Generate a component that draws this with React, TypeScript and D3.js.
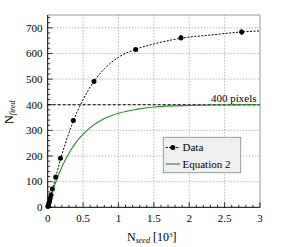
import React from "react";
import * as d3 from "d3";

const dataX = [0.003, 0.007, 0.012, 0.018, 0.025, 0.035, 0.047, 0.066, 0.113, 0.18, 0.362, 0.654, 1.243, 1.884, 2.741];
const dataY = [3, 7, 12, 18, 25, 35, 48, 71, 118, 191, 339, 491, 615, 661, 684];
const dataErr = [1, 1, 1, 1, 2, 2, 2, 3, 4, 5, 6, 7, 9, 11, 12];

const fitX = [0, 0.05, 0.1, 0.2, 0.3, 0.4, 0.5, 0.65, 0.8, 1.0, 1.25, 1.5, 1.9, 2.3, 2.75, 3];
const fitY = [0, 52, 105, 205, 290, 362, 420, 490, 540, 585, 617, 637, 660, 672, 684, 688];

const eqX = [0, 0.05, 0.1, 0.2, 0.3, 0.4, 0.5, 0.6, 0.8, 1.0, 1.25, 1.5, 2.0, 2.5, 3.0];
const eqY = [0, 47, 88, 157, 211, 253, 285, 311, 346, 367, 382, 391, 397, 399, 400];

const xTicks = [0, 0.5, 1, 1.5, 2, 2.5, 3];
const xTickLabels = ["0", "0.5", "1", "1.5", "2", "2.5", "3"];
const yTicks = [0, 100, 200, 300, 400, 500, 600, 700];

const W = 283, H = 247;
const L = 47.7, R = 260, T = 15, B = 207.3;
const FONT = "Liberation Serif, Times New Roman, DejaVu Serif, serif";

export default function App() {
  const x = d3.scaleLinear().domain([0, 3]).range([L, R]);
  const y = d3.scaleLinear().domain([0, 750]).range([B, T]);

  const fitLine = d3.line<number>().x((_, i) => x(fitX[i])).y((d) => y(d)).curve(d3.curveMonotoneX);
  const eqLine = d3.line<number>().x((_, i) => x(eqX[i])).y((d) => y(d)).curve(d3.curveMonotoneX);

  const xMinor = d3.range(0, 3.0001, 0.1);
  const yMinor = d3.range(0, 750.001, 20);

  return (
    <svg width={W} height={H} style={{ position: "absolute", left: 0, top: 0, background: "#fff", fontFamily: FONT }}>
      <rect x={0} y={0} width={W} height={H} fill="#fff" />
      {/* grid */}
      {xTicks.slice(1, -1).map((t) => (
        <line key={"gx" + t} x1={x(t)} x2={x(t)} y1={T} y2={B} stroke="#aaa" strokeWidth={0.8} strokeDasharray="1.5,1.5" />
      ))}
      {yTicks.slice(1).map((t) => (
        <line key={"gy" + t} x1={L} x2={R} y1={y(t)} y2={y(t)} stroke="#aaa" strokeWidth={0.8} strokeDasharray="1.5,1.5" />
      ))}
      {/* frame */}
      <line x1={L} x2={R} y1={T} y2={T} stroke="#999" strokeWidth={1} />
      <line x1={R} x2={R} y1={T} y2={B} stroke="#999" strokeWidth={1} />
      {/* 400 line */}
      <line x1={L} x2={R} y1={y(400)} y2={y(400)} stroke="#000" strokeWidth={1} strokeDasharray="3,2" />
      <text x={256.5} y={y(400) - 2.5} fontSize={11} textAnchor="end" fill="#000">400 pixels</text>
      {/* equation curve */}
      <path d={eqLine(eqY) || ""} fill="none" stroke="#228b22" strokeWidth={1.1} />
      {/* fit curve */}
      <path d={fitLine(fitY) || ""} fill="none" stroke="#000" strokeWidth={1} strokeDasharray="2,1.5" />
      {/* data */}
      {dataX.map((dx, i) => (
        <g key={"d" + i}>
          <line x1={x(dx)} x2={x(dx)} y1={y(dataY[i] - dataErr[i])} y2={y(dataY[i] + dataErr[i])} stroke="#000" strokeWidth={1} />
          <circle cx={x(dx)} cy={y(dataY[i])} r={2.5} fill="#000" />
        </g>
      ))}
      {/* axes */}
      <line x1={L} x2={L} y1={T} y2={B} stroke="#000" strokeWidth={1} />
      <line x1={L} x2={R} y1={B} y2={B} stroke="#000" strokeWidth={1} />
      {xMinor.map((t, i) => (
        <line key={"xt" + i} x1={x(t)} x2={x(t)} y1={B} y2={B - (i % 5 === 0 ? 5 : 2.5)} stroke="#000" strokeWidth={0.8} />
      ))}
      {yMinor.map((t, i) => (
        <line key={"yt" + i} x1={L} x2={L + (i % 5 === 0 ? 5 : 2.5)} y1={y(t)} y2={y(t)} stroke="#000" strokeWidth={0.8} />
      ))}
      {xTicks.map((t, i) => (
        <text key={"xl" + t} x={x(t)} y={221.5} fontSize={11} textAnchor="middle" fill="#000">{xTickLabels[i]}</text>
      ))}
      {yTicks.map((t) => (
        <text key={"yl" + t} x={42.5} y={y(t) + 3.8} fontSize={11} textAnchor="end" fill="#000">{t}</text>
      ))}
      {/* x title */}
      <text x={127} y={240.5} fontSize={12} fill="#000">
        N<tspan fontSize={8} fontStyle="italic" dy={2.5}>seed</tspan>
        <tspan dy={-2.5}> [10</tspan><tspan fontSize={7} dy={-4}>3</tspan><tspan dy={4}>]</tspan>
      </text>
      {/* y title */}
      <text transform="translate(12.5,124) rotate(-90)" fontSize={12} fill="#000">
        N<tspan fontSize={8} fontStyle="italic" dy={2.5}>fired</tspan>
      </text>
      {/* legend */}
      <rect x={163.3} y={137.3} width={77.4} height={35.4} fill="#f0f0f0" stroke="#888" strokeWidth={0.8} />
      <line x1={165.7} x2={180} y1={147.5} y2={147.5} stroke="#000" strokeWidth={1} strokeDasharray="2,1.5" />
      <circle cx={172.8} cy={147.5} r={2.5} fill="#000" />
      <text x={182.5} y={151.3} fontSize={11} fill="#000">Data</text>
      <line x1={165.7} x2={180} y1={164} y2={164} stroke="#228b22" strokeWidth={1.1} />
      <text x={182.5} y={167.8} fontSize={11} fill="#000">Equation 2</text>
    </svg>
  );
}
